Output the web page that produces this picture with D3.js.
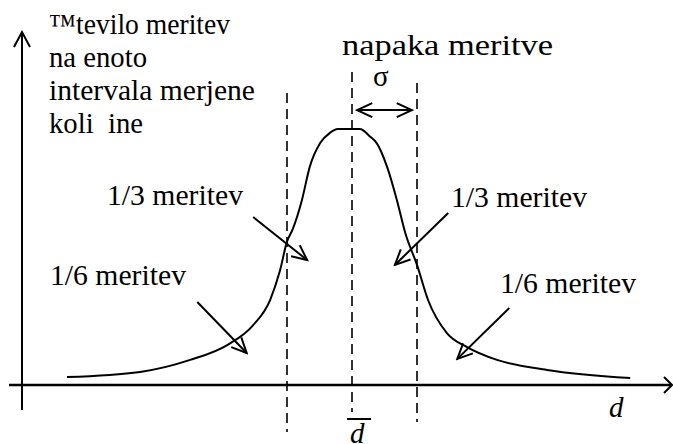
<!DOCTYPE html>
<html>
<head>
<meta charset="utf-8">
<script src="https://cdn.jsdelivr.net/npm/d3@7/dist/d3.min.js"></script>
<style>
  html, body { margin: 0; padding: 0; background: #fff; }
  svg { display: block; }
  text { fill: #000; font-family: "Liberation Serif"; }
</style>
</head>
<body>
<script>
// Distribution of measurements: position d in units of sigma, relative frequency
const curveD = [-4.385, -3.26, -2.49, -1.92, -1.52, -1.26, -1.11, -1.00, -0.91, -0.77, -0.65, -0.49, -0.34, -0.22,
                 0.12, 0.28, 0.38, 0.54, 0.69, 0.82, 1.00, 1.17, 1.46, 1.77, 2.23, 3.00, 4.28];
const curveF = [0.031, 0.051, 0.098, 0.156, 0.234, 0.332, 0.445, 0.560, 0.610, 0.723, 0.852, 0.945, 0.985, 1.0,
                 1.0, 0.97, 0.945, 0.852, 0.723, 0.594, 0.469, 0.332, 0.203, 0.148, 0.098, 0.059, 0.027];

// Vertical reference lines: mean and mean ± sigma
const markerD = [-1, 0, 1];

// Pointer arrows: start and tip as [d, frequency]
const pointerFrom = [[-1.52, 0.656], [-2.38, 0.324], [1.48, 0.672], [2.42, 0.301]];
const pointerTo   = [[-0.69, 0.488], [-1.62, 0.125], [0.66, 0.469], [1.62, 0.102]];
const pointerLabels = ["1/3 meritev", "1/6 meritev", "1/3 meritev", "1/6 meritev"];

// Sigma span
const sigmaSpan = [0.08, 0.92];
const sigmaLevel = 1.074;

const yLabelLines = ["\u2122tevilo meritev", "na enoto", "intervala merjene", "koli\u00a0\u00a0ine"];

const W = 673, H = 444;
const svg = d3.select("body").append("svg").attr("width", W).attr("height", H);

const x = d3.scaleLinear().domain([-1, 1]).range([287, 417]);
const y = d3.scaleLinear().domain([0, 1]).range([385, 129]);

// open V arrowhead
const defs = svg.append("defs");
defs.append("marker")
  .attr("id", "vhead").attr("markerUnits", "userSpaceOnUse")
  .attr("viewBox", "-17 -9 19 18").attr("markerWidth", 19).attr("markerHeight", 18)
  .attr("refX", 0).attr("refY", 0).attr("orient", "auto-start-reverse")
  .append("path").attr("d", "M-15,-7L0,0L-15,7")
  .attr("fill", "none").attr("stroke", "#000").attr("stroke-width", 2);

// axes
const x0 = x(-5.077);
svg.append("line").attr("x1", x0).attr("x2", x0).attr("y1", 410).attr("y2", 32)
  .attr("stroke", "#000").attr("stroke-width", 2);
svg.append("path").attr("d", `M${x0 - 8},47L${x0},32L${x0 + 8},47`)
  .attr("fill", "none").attr("stroke", "#000").attr("stroke-width", 2);
svg.append("line").attr("x1", 9).attr("x2", 672).attr("y1", y(0)).attr("y2", y(0))
  .attr("stroke", "#000").attr("stroke-width", 2.5);
svg.append("path").attr("d", `M664,${y(0) - 8}L672,${y(0)}L664,${y(0) + 8}`)
  .attr("fill", "none").attr("stroke", "#000").attr("stroke-width", 2);

// dashed reference lines
const dashTop = [93, 72, 83], dashBottom = [432, 412, 422];
svg.selectAll("line.ref").data(markerD).join("line").attr("class", "ref")
  .attr("x1", d => x(d)).attr("x2", d => x(d))
  .attr("y1", (d, i) => dashTop[i]).attr("y2", (d, i) => dashBottom[i])
  .attr("stroke", "#000").attr("stroke-width", 1.6).attr("stroke-dasharray", "10,6");

// distribution curve
const pts = curveD.map((d, i) => [d, curveF[i]]);
svg.append("path").datum(pts)
  .attr("d", d3.line().x(p => x(p[0])).y(p => y(p[1])).curve(d3.curveMonotoneX))
  .attr("fill", "none").attr("stroke", "#000").attr("stroke-width", 2);

// pointer arrows
svg.selectAll("line.ptr").data(pointerFrom).join("line").attr("class", "ptr")
  .attr("x1", d => x(d[0])).attr("y1", d => y(d[1]))
  .attr("x2", (d, i) => x(pointerTo[i][0])).attr("y2", (d, i) => y(pointerTo[i][1]))
  .attr("stroke", "#000").attr("stroke-width", 2).attr("marker-end", "url(#vhead)");

// sigma double arrow
svg.append("line")
  .attr("x1", x(sigmaSpan[0])).attr("x2", x(sigmaSpan[1]))
  .attr("y1", y(sigmaLevel)).attr("y2", y(sigmaLevel))
  .attr("stroke", "#000").attr("stroke-width", 2)
  .attr("marker-start", "url(#vhead)").attr("marker-end", "url(#vhead)");

// text helper, optionally fitted to a given width
function label(str, tx, ty, size, width, italic) {
  const t = svg.append("text").attr("x", tx).attr("y", ty)
    .attr("font-size", size).text(str);
  if (italic) t.attr("font-style", "italic");
  if (width) t.attr("textLength", width).attr("lengthAdjust", "spacingAndGlyphs");
  return t;
}

const fs = 29;
// y-axis caption as one text block, one tspan per line
const yWidths = [181, 98, 206, 94];
svg.append("text").attr("font-size", fs)
  .selectAll("tspan").data(yLabelLines).join("tspan")
  .attr("x", 49).attr("y", (d, i) => 34 + i * 33)
  .attr("textLength", (d, i) => yWidths[i]).attr("lengthAdjust", "spacingAndGlyphs")
  .text(d => d);

const labelPos = [[107, 205], [50, 285], [451, 207], [500, 293]];
pointerLabels.forEach((s, i) => label(s, labelPos[i][0], labelPos[i][1], fs, 136));

label("napaka meritve", 342, 55, 30, 211);
label("\u03c3", 373, 86, fs);
label("d", 609, 417, fs, null, true);

// mean symbol: d with a bar over it
label("d", 350, 443, fs, null, true);
svg.append("line").attr("x1", 347).attr("x2", 371).attr("y1", 419).attr("y2", 419)
  .attr("stroke", "#000").attr("stroke-width", 2);
</script>
</body>
</html>
